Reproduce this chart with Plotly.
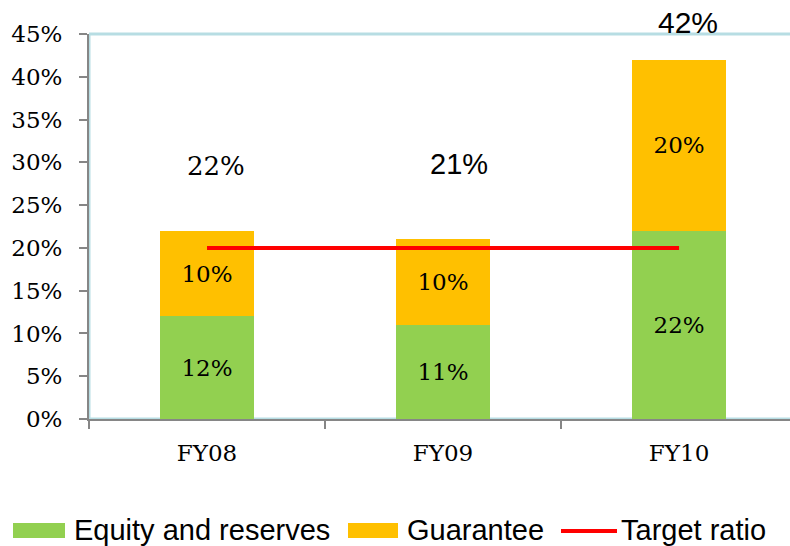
import plotly.graph_objects as go

# Capital ratio components by fiscal year (percent)
years = ["FY08", "FY09", "FY10"]
equity = [12, 11, 22]
guarantee = [10, 10, 20]
target = [20, 20, 20]
totals = [e + g for e, g in zip(equity, guarantee)]
y_ticks = [0, 5, 10, 15, 20, 25, 30, 35, 40, 45]

GREEN = "#92D050"
ORANGE = "#FFC000"
RED = "#FF0000"
FRAME = "#B7DDE3"
AXIS = "#868686"
SERIF = "DejaVu Serif"
SANS = "Liberation Sans"

W, H = 790, 546
ML, MT, MB, MR = 89, 34, 127, 0
PW, PH = W - ML - MR, H - MT - MB


def px(x):
    """Pixel column -> paper x."""
    return (x - ML) / PW


def py(y):
    """Pixel row -> paper y."""
    return (H - MB - y) / PH


fig = go.Figure()
fig.add_trace(go.Bar(
    x=years, y=equity, name="Equity and reserves", marker_color=GREEN,
    marker_line_width=0, width=0.4,
    text=[f"{v}%" for v in equity], textposition="inside",
    insidetextanchor="middle",
    textfont=dict(family=SERIF, size=23, color="black"),
))
fig.add_trace(go.Bar(
    x=years, y=guarantee, name="Guarantee", marker_color=ORANGE,
    marker_line_width=0, width=0.4,
    text=[f"{v}%" for v in guarantee], textposition="inside",
    insidetextanchor="middle",
    textfont=dict(family=SERIF, size=23, color="black"),
))
fig.add_trace(go.Scatter(
    x=years, y=target, name="Target ratio", mode="lines",
    line=dict(color=RED, width=4),
))

# Total labels above each stack (anchored inside the axis range, nudged in pixels)
label_y = [29.6, 29.8, 45.0]
label_yshift = [0, 0, 12]
label_font = [SERIF, SANS, SANS]
label_size = [26, 29, 30]
label_shift = [9, 16, 9]
for yr, tot, ly, ys, fam, sz, sh in zip(years, totals, label_y, label_yshift,
                                         label_font, label_size, label_shift):
    fig.add_annotation(
        x=yr, y=ly, text=f"{tot}%", showarrow=False, xshift=sh, yshift=ys,
        font=dict(family=fam, size=sz, color="black"),
    )

# Light frame around the plotting area
for x0, y0, x1, y1 in [(0, 1, 1, 1), (0, 0, 0, 1), (0, 0, 1, 0)]:
    fig.add_shape(type="line", xref="paper", yref="paper",
                  x0=x0, y0=y0, x1=x1, y1=y1,
                  line=dict(color=FRAME, width=3), layer="below")

# Legend row along the bottom
legend_y = 530
legend_items = [
    ("rect", GREEN, 13, 65, 72, "Equity and reserves"),
    ("rect", ORANGE, 348, 398, 405, "Guarantee"),
    ("line", RED, 561, 617, 619, "Target ratio"),
]
for kind, color, x0, x1, tx, label in legend_items:
    if kind == "rect":
        fig.add_shape(type="rect", xref="paper", yref="paper",
                      x0=px(x0), x1=px(x1), y0=py(legend_y + 8), y1=py(legend_y - 7),
                      fillcolor=color, line_width=0)
    else:
        fig.add_shape(type="line", xref="paper", yref="paper",
                      x0=px(x0), x1=px(x1), y0=py(legend_y + 1), y1=py(legend_y + 1),
                      line=dict(color=color, width=4))
    fig.add_annotation(
        xref="paper", yref="paper", x=px(tx), y=py(legend_y),
        xanchor="left", yanchor="middle", text=label, showarrow=False,
        font=dict(family=SANS, size=29, color="black"),
    )

fig.update_layout(
    barmode="stack",
    width=W, height=H,
    margin=dict(l=ML, r=MR, t=MT, b=MB, autoexpand=False),
    plot_bgcolor="white", paper_bgcolor="white",
    showlegend=False,
    xaxis=dict(
        type="category", range=[-0.5, 2.47],
        showline=True, linecolor=AXIS, linewidth=2,
        ticks="outside", tickson="boundaries", ticklen=8,
        tickcolor=AXIS, tickwidth=2, ticklabelstandoff=12,
        tickfont=dict(family=SERIF, size=23, color="black"),
        showgrid=False,
    ),
    yaxis=dict(
        range=[0, 45], tickvals=y_ticks,
        ticktext=[f"{v}%" for v in y_ticks],
        showline=True, linecolor=AXIS, linewidth=2,
        ticks="outside", ticklen=8, tickcolor=AXIS, tickwidth=2,
        ticklabelstandoff=12,
        tickfont=dict(family=SERIF, size=23, color="black"),
        showgrid=False, zeroline=False,
    ),
)

fig.write_html("out.html")
